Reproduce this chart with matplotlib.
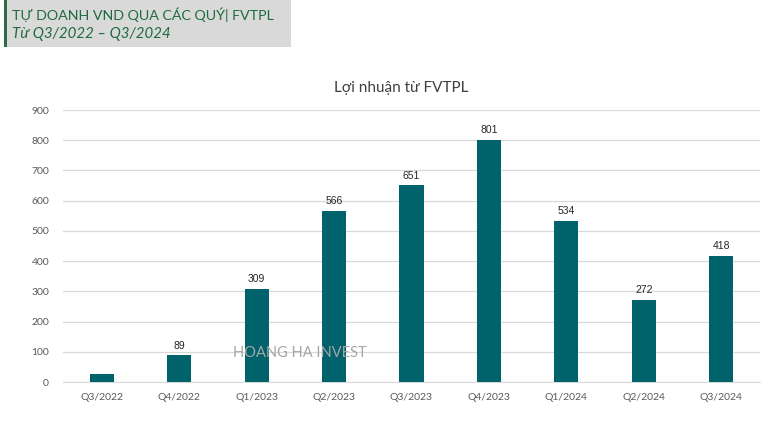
import matplotlib.pyplot as plt
from matplotlib.patches import Rectangle

# Data
quarters = ["Q3/2022", "Q4/2022", "Q1/2023", "Q2/2023", "Q3/2023",
            "Q4/2023", "Q1/2024", "Q2/2024", "Q3/2024"]
profit = [27, 89, 309, 566, 651, 801, 534, 272, 418]
shown_labels = [None, "89", "309", "566", "651", "801", "534", "272", "418"]

bar_color = "#00626B"
green_text = "#1E6B3E"
font = ["Lato", "DejaVu Sans"]

fig = plt.figure(figsize=(7.77, 4.23), dpi=100)
fig.patch.set_facecolor("white")

# header box
fig.patches.append(Rectangle((4 / 777, 1 - 47 / 423), 287 / 777, 47 / 423,
                             transform=fig.transFigure, facecolor="#D9D9D9",
                             edgecolor="none", zorder=0))
fig.patches.append(Rectangle((4 / 777, 1 - 47 / 423), 3 / 777, 47 / 423,
                             transform=fig.transFigure, facecolor="#2E6B45",
                             edgecolor="none", zorder=1))
fig.text(12 / 777, 1 - 15 / 423, "TỰ DOANH VND QUA CÁC QUÝ| FVTPL",
         fontsize=10.3, color=green_text, family=font,
         va="center", ha="left")
fig.text(12 / 777, 1 - 34 / 423, "Từ Q3/2022 – Q3/2024",
         fontsize=10.8, color=green_text, family=font, style="italic",
         va="center", ha="left")

ax = fig.add_axes([63 / 777, (423 - 382) / 423, 697 / 777, 272 / 423])
x = range(len(quarters))
ax.bar(x, profit, width=0.31, color=bar_color, zorder=3)

for i, lab in enumerate(shown_labels):
    if lab:
        ax.text(i, profit[i] + 15, lab, ha="center", va="bottom",
                fontsize=7.5, color="#262626", family=["Liberation Sans"])

ax.set_xlim(-0.5, len(quarters) - 0.5)
ax.set_ylim(0, 900)
ax.set_yticks(range(0, 901, 100))
ax.set_xticks(list(x))
ax.set_xticklabels(quarters)
ax.grid(axis="y", color="#D9D9D9", linewidth=0.9, zorder=0)
for side in ["top", "right", "left"]:
    ax.spines[side].set_visible(False)
ax.spines["bottom"].set_color("#D9D9D9")
ax.tick_params(length=0, labelsize=7.5, colors="#595959", pad=8)
ax.tick_params(axis="y", pad=10)
for t in ax.get_xticklabels() + ax.get_yticklabels():
    t.set_family(font)

fig.text(401 / 777, 1 - 88 / 423, "Lợi nhuận từ FVTPL", ha="center",
         va="center", fontsize=11, color="#404040", family=font)

ax.text(300 / 777, 1 - 353 / 423, "HOANG HA INVEST", transform=fig.transFigure,
        ha="center", va="center", fontsize=10.5, color="#A6A6A6",
        family=font, zorder=5)

fig.savefig("out.png", dpi=100)
